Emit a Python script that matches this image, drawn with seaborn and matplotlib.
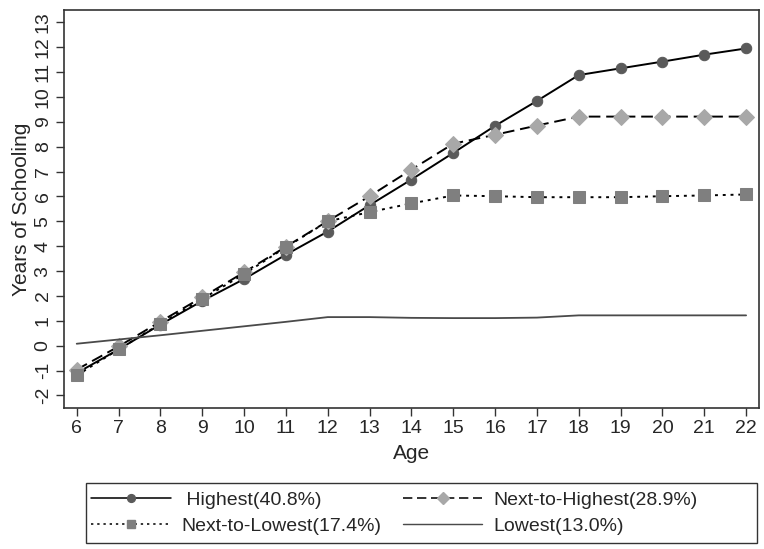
import numpy as np
import pandas as pd
import matplotlib
matplotlib.use("Agg")
import matplotlib.pyplot as plt
import seaborn as sns
from matplotlib.lines import Line2D
from matplotlib.patches import Rectangle

ages = list(range(6, 23))
highest = [-1.10, -0.15, 0.85, 1.80, 2.68, 3.66, 4.59, 5.65, 6.68, 7.75, 8.84, 9.84, 10.88, 11.15, 11.42, 11.70, 11.95]
next_highest = [-0.96, -0.03, 0.97, 1.95, 2.95, 3.98, 5.01, 6.01, 7.08, 8.12, 8.48, 8.85, 9.21, 9.21, 9.21, 9.21, 9.21]
next_lowest = [-1.19, -0.15, 0.88, 1.88, 2.88, 3.96, 5.00, 5.37, 5.72, 6.04, 6.01, 5.97, 5.97, 5.97, 6.01, 6.04, 6.08]
lowest = [0.08, 0.25, 0.42, 0.60, 0.78, 0.96, 1.15, 1.15, 1.12, 1.11, 1.11, 1.13, 1.22, 1.22, 1.22, 1.22, 1.22]

labels = [" Highest(40.8%)", "Next-to-Highest(28.9%)", "Next-to-Lowest(17.4%)", "Lowest(13.0%)"]
y_ticks = list(range(-2, 14))
x_ticks = ages

sns.set_style("white")
plt.rcParams['font.family'] = ['Liberation Sans', 'DejaVu Sans']
plt.rcParams['axes.unicode_minus'] = False

W, H = 764, 549
fig = plt.figure(figsize=(W / 100, H / 100), dpi=100)
ax = fig.add_axes([0.084, 0.257, 0.909, 0.725])

df = pd.DataFrame({"Age": ages, "h": highest, "nh": next_highest, "nl": next_lowest, "l": lowest})

styles = [
    dict(col="h", ls="-", marker="o", mfc="#5a5a5a", ms=7.5, lc="black", lw=1.4),
    dict(col="nh", ls=(0, (6, 3)), marker="D", mfc="#a8a8a8", ms=8, lc="black", lw=1.4),
    dict(col="nl", ls=(0, (1.5, 2.5)), marker="s", mfc="#7f7f7f", ms=8, lc="black", lw=1.4),
    dict(col="l", ls="-", marker=None, mfc=None, ms=0, lc="#4a4a4a", lw=1.3),
]

handles = []
for st, lab in zip(styles, labels):
    kw = dict(color=st["lc"], linewidth=st["lw"], linestyle=st["ls"])
    if st["marker"]:
        kw.update(marker=st["marker"], markersize=st["ms"], markerfacecolor=st["mfc"], markeredgecolor=st["mfc"])
    sns.lineplot(data=df, x="Age", y=st["col"], ax=ax, **kw)
    hk = dict(color=st["lc"], linewidth=st["lw"] * 0.8, linestyle=st["ls"])
    if st["marker"]:
        hk.update(marker=st["marker"], markersize=st["ms"] * 0.75, markerfacecolor=st["mfc"], markeredgecolor=st["mfc"])
    handles.append(Line2D([], [], **hk))

ax.set_xlim(5.7, 22.3)
ax.set_ylim(-2.5, 13.5)
ax.set_xticks(x_ticks)
ax.set_yticks(y_ticks)
ax.tick_params(axis="both", direction="out", length=6, width=1, color="#333333", labelsize=14, bottom=True, left=True, pad=3)
for lab in ax.get_yticklabels():
    lab.set_rotation(90)
    lab.set_va("center")
ax.set_xlabel("Age", fontsize=15, labelpad=5)
ax.set_ylabel("Years of Schooling", fontsize=15, labelpad=3)
for s in ax.spines.values():
    s.set_color("#333333")
    s.set_linewidth(1.2)

# legend frame
fx0, fx1, fy0, fy1 = 86 / W, 757 / W, 1 - 543 / H, 1 - 483 / H
fig.patches.append(Rectangle((fx0, fy0), fx1 - fx0, fy1 - fy0, transform=fig.transFigure,
                             fill=False, edgecolor="#333333", linewidth=1.0))

order = [0, 2, 1, 3]
leg = fig.legend([handles[i] for i in order], [labels[i] for i in order],
                 ncol=2, loc="center left", bbox_to_anchor=(fx0, (fy0 + fy1) / 2),
                 fontsize=14, frameon=False,
                 handlelength=4.1, handletextpad=0.55, borderpad=0.0, labelspacing=0.45, numpoints=1,
                 columnspacing=1.1, borderaxespad=0.25)

fig.savefig("out.png", dpi=100, facecolor="white")
